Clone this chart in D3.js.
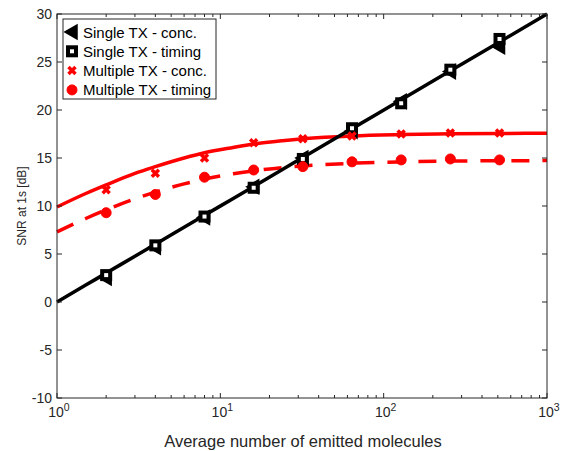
<!DOCTYPE html>
<html>
<head>
<meta charset="utf-8">
<script src="https://cdn.jsdelivr.net/npm/d3@7"></script>
<style>
  body { margin: 0; background: #fff; }
  svg { font-family: "Liberation Sans", Arial, sans-serif; }
</style>
</head>
<body>
<svg id="chart" width="561" height="451"></svg>
<script>
// theory curves
const theoryN = [1, 1.5, 2, 3, 4, 6, 8, 12, 16, 24, 32, 64, 128, 256, 512, 1000];
const singleTheory = [0, 1.76, 3.01, 4.77, 6.02, 7.78, 9.03, 10.79, 12.04, 13.8, 15.05, 18.06, 21.07, 24.08, 27.09, 30];
const multiConcTheory = [9.9, 11.3, 12.2, 13.4, 14.1, 15.0, 15.55, 16.1, 16.45, 16.8, 17.0, 17.3, 17.44, 17.52, 17.56, 17.58];
const multiTimingTheory = [7.3, 8.7, 9.6, 10.75, 11.45, 12.3, 12.8, 13.35, 13.66, 14.0, 14.17, 14.45, 14.6, 14.68, 14.71, 14.73];

// simulated points
const simN = [2, 4, 8, 16, 32, 64, 128, 256, 512];
const singleConc = [2.5, 5.7, 8.8, 12.0, 15.0, 17.8, 20.9, 24.0, 26.6];
const singleTiming = [2.8, 5.9, 8.9, 11.9, 14.9, 18.1, 20.7, 24.2, 27.4];
const multiConc = [11.7, 13.4, 15.0, 16.6, 17.0, 17.3, 17.5, 17.6, 17.6];
const multiTiming = [9.3, 11.2, 13.0, 13.75, 14.1, 14.6, 14.8, 14.9, 14.8];

const yTicks = [-10, -5, 0, 5, 10, 15, 20, 25, 30];
const xTicks = [1, 10, 100, 1000];
const legendLabels = ["Single TX - conc.", "Single TX - timing", "Multiple TX - conc.", "Multiple TX - timing"];

const margin = { left: 57, right: 14, top: 14, bottom: 53 };
const width = 561, height = 451;
const axisColor = "#262626";

const svg = d3.select("#chart");

const x = d3.scaleLog()
  .domain([1, 1000])
  .range([margin.left, width - margin.right]);

const y = d3.scaleLinear()
  .domain([-10, 30])
  .range([height - margin.bottom, margin.top]);

const minorTicks = [];
for (let d = 1; d < 1000; d *= 10) {
  for (let k = 2; k <= 9; k++) minorTicks.push(d * k);
}

const plot = svg.append("g");

// lines
const line = d3.line()
  .x(function (d) { return x(d[0]); })
  .y(function (d) { return y(d[1]); })
  .curve(d3.curveMonotoneX);

function pairs(xs, ys) {
  return xs.map(function (v, i) { return [v, ys[i]]; });
}

plot.append("path")
  .attr("d", line(pairs(theoryN, multiTimingTheory)))
  .attr("fill", "none")
  .attr("stroke", "#ff0000")
  .attr("stroke-width", 3.5)
  .attr("stroke-dasharray", "18,13");

plot.append("path")
  .attr("d", line(pairs(theoryN, multiConcTheory)))
  .attr("fill", "none")
  .attr("stroke", "#ff0000")
  .attr("stroke-width", 3.5);

plot.append("path")
  .attr("d", line(pairs(theoryN, singleTheory)))
  .attr("fill", "none")
  .attr("stroke", "#000")
  .attr("stroke-width", 3.5);

// markers
function drawTriangle(g, cx, cy) {
  g.append("path")
    .attr("d", `M${cx - 7},${cy} L${cx + 5},${cy - 7} L${cx + 5},${cy + 7} Z`)
    .attr("fill", "#000")
    .attr("stroke", "#000")
    .attr("stroke-width", 1.5)
    .attr("stroke-linejoin", "miter");
}

function drawSquare(g, cx, cy) {
  g.append("rect")
    .attr("x", cx - 4).attr("y", cy - 4)
    .attr("width", 8).attr("height", 8)
    .attr("fill", "#fff")
    .attr("stroke", "#000")
    .attr("stroke-width", 4);
}

function drawCross(g, cx, cy) {
  g.append("path")
    .attr("d", `M${cx - 3.5},${cy - 3.5} L${cx + 3.5},${cy + 3.5} M${cx - 3.5},${cy + 3.5} L${cx + 3.5},${cy - 3.5}`)
    .attr("stroke", "#ff0000")
    .attr("stroke-width", 3.5);
}

function drawCircle(g, cx, cy) {
  g.append("circle")
    .attr("cx", cx).attr("cy", cy).attr("r", 5)
    .attr("fill", "#ff0000")
    .attr("stroke", "#ff0000")
    .attr("stroke-width", 1);
}

simN.forEach(function (n, i) {
  drawTriangle(plot, x(n), y(singleConc[i]));
  drawSquare(plot, x(n), y(singleTiming[i]));
  drawCross(plot, x(n), y(multiConc[i]));
  drawCircle(plot, x(n), y(multiTiming[i]));
});

// axes box
const axes = svg.append("g").attr("stroke", axisColor).attr("fill", "none");
const x0 = x.range()[0], x1 = x.range()[1];
const yb = y.range()[0], yt = y.range()[1];

axes.append("rect")
  .attr("x", x0).attr("y", yt)
  .attr("width", x1 - x0).attr("height", yb - yt)
  .attr("stroke-width", 1);

// y ticks both sides
yTicks.forEach(function (t) {
  axes.append("line").attr("x1", x0).attr("x2", x0 + 5).attr("y1", y(t)).attr("y2", y(t));
  axes.append("line").attr("x1", x1).attr("x2", x1 - 5).attr("y1", y(t)).attr("y2", y(t));
});

// x ticks top and bottom
xTicks.forEach(function (t) {
  axes.append("line").attr("x1", x(t)).attr("x2", x(t)).attr("y1", yb).attr("y2", yb - 5);
  axes.append("line").attr("x1", x(t)).attr("x2", x(t)).attr("y1", yt).attr("y2", yt + 5);
});
minorTicks.forEach(function (t) {
  axes.append("line").attr("x1", x(t)).attr("x2", x(t)).attr("y1", yb).attr("y2", yb - 3);
  axes.append("line").attr("x1", x(t)).attr("x2", x(t)).attr("y1", yt).attr("y2", yt + 3);
});

// tick labels
svg.append("g")
  .selectAll("text")
  .data(yTicks)
  .enter()
  .append("text")
  .attr("x", x0 - 5)
  .attr("y", function (d) { return y(d) + 5; })
  .attr("text-anchor", "end")
  .attr("font-size", 14)
  .attr("fill", axisColor)
  .text(function (d) { return d; });

const xl = svg.append("g")
  .selectAll("text")
  .data(xTicks)
  .enter()
  .append("text")
  .attr("x", function (d) { return x(d) + 2; })
  .attr("y", yb + 19)
  .attr("text-anchor", "middle")
  .attr("font-size", 14)
  .attr("fill", axisColor);
xl.append("tspan").text("10");
xl.append("tspan")
  .attr("dy", -6)
  .attr("font-size", 10.5)
  .text(function (d) { return Math.round(Math.log10(d)); });

// axis labels
svg.append("text")
  .attr("x", 303)
  .attr("y", height - 4)
  .attr("text-anchor", "middle")
  .attr("font-size", 16.5)
  .attr("fill", axisColor)
  .text("Average number of emitted molecules");

svg.append("text")
  .attr("transform", `translate(26,${(yt + yb) / 2}) rotate(-90)`)
  .attr("text-anchor", "middle")
  .attr("font-size", 12)
  .attr("fill", axisColor)
  .text("SNR at 1s [dB]");

// legend
const legend = svg.append("g");
legend.append("rect")
  .attr("x", 63).attr("y", 19)
  .attr("width", 153).attr("height", 80)
  .attr("fill", "#fff")
  .attr("stroke", axisColor)
  .attr("stroke-width", 1);

const legendDraw = [drawTriangle, drawSquare, drawCross, drawCircle];
legendLabels.forEach(function (label, i) {
  const ly = 32 + i * 19.3;
  legendDraw[i](legend, 72, ly);
  legend.append("text")
    .attr("x", 83)
    .attr("y", ly + 5.5)
    .attr("font-size", 15)
    .attr("fill", "#000")
    .text(label);
});
</script>
</body>
</html>
